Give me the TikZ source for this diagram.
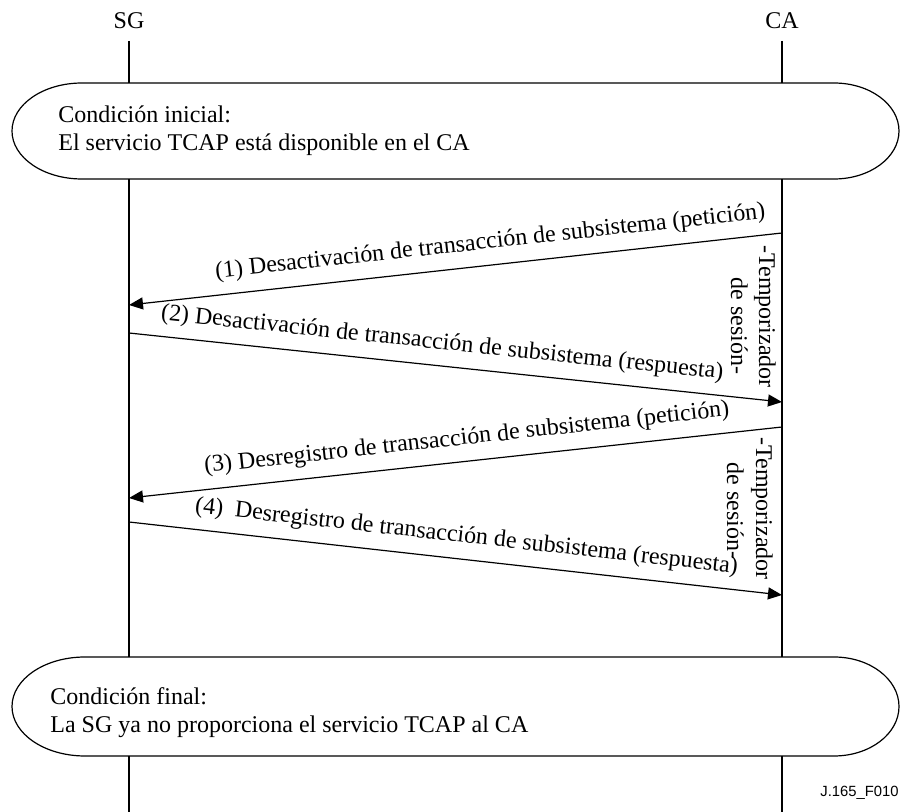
\documentclass[tikz,border=0pt]{standalone}
\usepackage{fontspec}
\setmainfont{Liberation Serif}
\newfontfamily\figidfont{Liberation Sans}
\usetikzlibrary{arrows.meta}
\begin{document}
\begin{tikzpicture}[x=0.5pt,y=-0.5pt,
  every node/.style={font=\fontsize{12}{14}\selectfont},
  head/.style={anchor=base,inner sep=0pt},
  lifeline/.style={line width=1.2pt},
  condbox/.style={line width=0.6pt},
  condtext/.style={anchor=west,align=left,inner sep=0pt},
  msg/.style={line width=0.6pt,-{Triangle[length=7pt,width=6pt]}},
  msglabel/.style={sloped,above,inner xsep=0pt,inner ysep=5.5pt},
  timerlabel/.style={rotate=-90,anchor=base,inner sep=0pt},
]
\useasboundingbox (0,0) rectangle (902,812);

% entity names
\node[head] (sg) at (129,28.5) {SG};
\node[head] (ca) at (782,28.5) {CA};

% lifeline segments, broken by the two condition boxes
\coordinate (sgT)  at (129,41);   \coordinate (caT)  at (782,41);
\coordinate (sg1a) at (129,83);   \coordinate (ca1a) at (782,83);
\coordinate (sg1b) at (129,179);  \coordinate (ca1b) at (782,179);
\coordinate (sg2a) at (129,657);  \coordinate (ca2a) at (782,657);
\coordinate (sg2b) at (129,756);  \coordinate (ca2b) at (782,756);
\coordinate (sgB)  at (129,812);  \coordinate (caB)  at (782,812);

\draw[lifeline] (sgT) -- (sg1a) (sg1b) -- (sg2a) (sg2b) -- (sgB);
\draw[lifeline] (caT) -- (ca1a) (ca1b) -- (ca2a) (ca2b) -- (caB);

% initial condition
\draw[condbox] (82,83) -- (834,83)
  arc[start angle=90,end angle=-90,x radius=32.5pt,y radius=24pt]
  -- (82,179)
  arc[start angle=270,end angle=90,x radius=35pt,y radius=24pt] -- cycle;
\node[condtext] (init) at (58,131)
  {Condición inicial:\\El servicio TCAP está disponible en el CA};

% final condition
\draw[condbox] (85,657) -- (834,657)
  arc[start angle=90,end angle=-90,x radius=32.5pt,y radius=24.75pt]
  -- (85,756)
  arc[start angle=270,end angle=90,x radius=36.5pt,y radius=24.75pt] -- cycle;
\node[condtext] (final) at (50,713)
  {Condición final:\\La SG ya no proporciona el servicio TCAP al CA};

% message end points
\coordinate (m1s) at (782,233);  \coordinate (m1e) at (129,305);
\coordinate (m2s) at (129,333);  \coordinate (m2e) at (782,402);
\coordinate (m3s) at (782,427);  \coordinate (m3e) at (129,498);
\coordinate (m4s) at (129,522);  \coordinate (m4e) at (782,595);

\draw[msg] (m1s) -- node[msglabel,pos=0.443] (l1)
  {(1) Desactivación de transacción de subsistema (petición)} (m1e);
\draw[msg] (m2s) -- node[msglabel,pos=0.476] (l2)
  {(2) Desactivación de transacción de subsistema (respuesta)} (m2e);
\draw[msg] (m3s) -- node[msglabel,pos=0.479] (l3)
  {(3) Desregistro de transacción de subsistema (petición)} (m3e);
\draw[msg] (m4s) -- node[msglabel,pos=0.513] (l4)
  {(4)\ \ Desregistro de transacción de subsistema (respuesta)} (m4e);

% session timers
\node[timerlabel] (t1a) at (759,316.5) {-Temporizador};
\node[timerlabel] (t1b) at (731,326) {de sesión-};
\node[timerlabel] (t2a) at (756,508.5) {-Temporizador};
\node[timerlabel] (t2b) at (727,511) {de sesión-};

% figure identifier
\node[anchor=base west,inner sep=0pt,font=\figidfont\fontsize{7.4}{9}\selectfont]
  (fig) at (820,797) {J.165\_F010};
\end{tikzpicture}
\end{document}
